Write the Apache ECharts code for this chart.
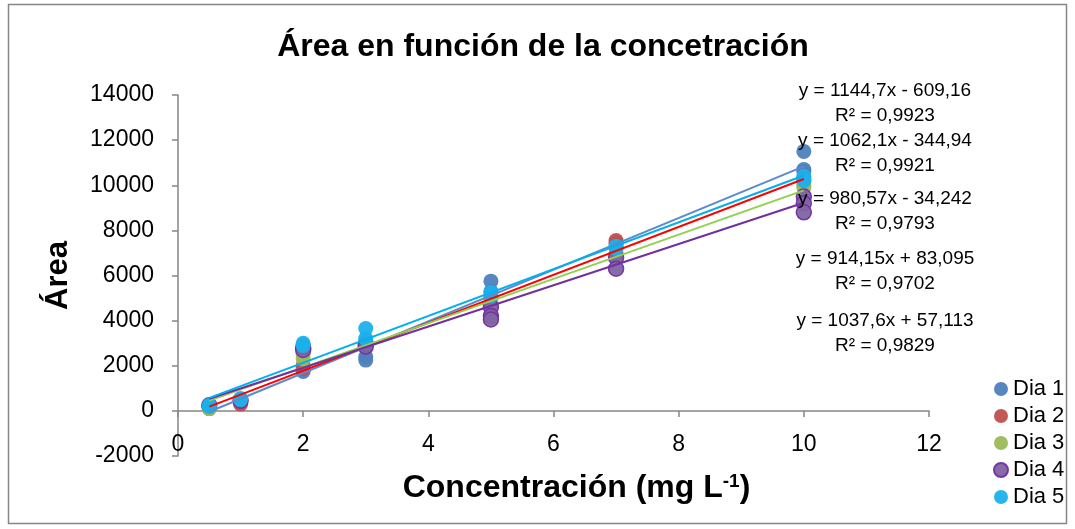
<!DOCTYPE html>
<html>
<head>
<meta charset="utf-8">
<script src="https://cdn.jsdelivr.net/npm/echarts@6/dist/echarts.min.js"></script>
<style>html,body{margin:0;padding:0;background:#fff}#c{width:1075px;height:529px}</style>
</head>
<body>
<div id="c"></div>
<script>
// ---- data ----
const seriesNames = ['Dia 1', 'Dia 2', 'Dia 3', 'Dia 4', 'Dia 5'];
const dia1X = [0.5, 0.5, 1, 2, 2, 3, 3, 5, 5, 7, 7, 10, 10, 10];
const dia1Y = [100, 150, 450, 1750, 1850, 2250, 2400, 5750, 5300, 7400, 7250, 11500, 10700, 10600];
const dia2X = [0.5, 1, 1, 2, 2, 3, 5, 7, 7, 10, 10];
const dia2Y = [150, 350, 300, 2000, 1900, 2900, 5000, 7550, 7450, 10300, 10200];
const dia3X = [0.5, 0.5, 1, 2, 2, 3, 3, 5, 5, 7, 7, 10, 10];
const dia3Y = [100, 200, 450, 2500, 2300, 3100, 3000, 4800, 4700, 6900, 7000, 9900, 10000];
const dia4X = [0.5, 1, 2, 2, 3, 3, 5, 5, 5, 7, 7, 10, 10, 10];
const dia4Y = [250, 450, 2800, 2700, 2950, 2850, 4600, 4200, 4050, 6800, 6300, 9500, 9200, 8800];
const dia5X = [0.5, 0.5, 1, 1, 2, 2, 3, 3, 5, 5, 7, 7, 10, 10];
const dia5Y = [250, 200, 550, 500, 3000, 2900, 3650, 3200, 5250, 5100, 7300, 7200, 10400, 10200];
// trendline coefficients (from the chart's equations)
const slopes = [1144.7, 1062.1, 980.57, 914.15, 1037.6];
const intercepts = [-609.16, -344.94, -34.242, 83.095, 57.113];
const r2 = ['0,9923', '0,9921', '0,9793', '0,9702', '0,9829'];
const eqTexts = ['y = 1144,7x - 609,16', 'y = 1062,1x - 344,94', 'y = 980,57x - 34,242', 'y = 914,15x + 83,095', 'y = 1037,6x + 57,113'];
const trendRange = [0.5, 10];
const xTicks = [0, 2, 4, 6, 8, 10, 12];
const yTicks = [-2000, 0, 2000, 4000, 6000, 8000, 10000, 12000, 14000];

// ---- styles ----
const markerColors = ['#4F81BD', '#C0504D', '#9BBB59', '#8064A2', '#1CB0EB'];
const markerBorders = ['#4F81BD', '#C0504D', '#9BBB59', '#7030A0', '#1CB0EB'];
const lineColors = ['#5B8BCB', '#FF0000', '#92D050', '#7030A0', '#00B0F0'];
const eqY = [91, 141, 199, 259, 321];
const FONT = '"Liberation Sans", Arial, sans-serif';

const xs = [dia1X, dia2X, dia3X, dia4X, dia5X];
const ys = [dia1Y, dia2Y, dia3Y, dia4Y, dia5Y];

const series = [];
seriesNames.forEach((n, i) => {
  series.push({
    name: n, type: 'scatter', symbol: 'circle', symbolSize: 15, z: 2,
    itemStyle: { color: markerColors[i], borderColor: markerBorders[i], borderWidth: i === 3 ? 1.5 : 0, opacity: 0.95 },
    data: xs[i].map((x, k) => [x, ys[i][k]])
  });
});
seriesNames.forEach((n, i) => {
  series.push({
    name: n + ' trend', type: 'line', symbol: 'none', z: 3, silent: true,
    lineStyle: { color: lineColors[i], width: 2 },
    data: trendRange.map(x => [x, slopes[i] * x + intercepts[i]])
  });
});

const eqGraphics = [];
eqTexts.forEach((t, i) => {
  eqGraphics.push({ type: 'text', x: 885, y: eqY[i], style: { text: t, x: 0, y: 0, textAlign: 'center', textVerticalAlign: 'middle', font: '19px ' + FONT, fill: '#000' }, z: 10 });
  eqGraphics.push({ type: 'text', x: 885, y: eqY[i] + 25, style: { text: 'R² = ' + r2[i], x: 0, y: 0, textAlign: 'center', textVerticalAlign: 'middle', font: '19px ' + FONT, fill: '#000' }, z: 10 });
});

const chart = echarts.init(document.getElementById('c'));
chart.setOption({
  animation: false,
  backgroundColor: '#fff',
  title: {
    text: 'Área en función de la concetración', left: 538, top: 26, textAlign: 'center',
    textStyle: { fontFamily: FONT, fontWeight: 'bold', fontSize: 32, color: '#000' }
  },
  legend: {
    data: seriesNames, orient: 'vertical', left: 988, top: 373, itemGap: 5,
    icon: 'circle', itemWidth: 14, itemHeight: 14,
    textStyle: { fontFamily: FONT, fontSize: 22, color: '#000' }
  },
  grid: { left: 178, right: 146, top: 95, bottom: 73, containLabel: false, outerBoundsMode: 'none' },
  xAxis: {
    type: 'value', min: 0, max: 12, interval: 2,
    axisLine: { onZero: true, lineStyle: { color: '#868686', width: 1.5 } },
    axisTick: { show: true, length: 6, lineStyle: { color: '#868686', width: 1.5 } },
    splitLine: { show: false },
    axisLabel: { margin: -23, color: '#000', fontFamily: FONT, fontSize: 23 },
    name: 'Concentración (mg L{sup|-1})', nameLocation: 'middle', nameGap: 16,
    nameTextStyle: {
      fontFamily: FONT, fontWeight: 'bold', fontSize: 32, color: '#000', padding: [0, 0, 0, 46],
      rich: { sup: { fontSize: 19, fontWeight: 'bold', verticalAlign: 'top', padding: [0, 0, 14, 0], fontFamily: FONT } }
    }
  },
  yAxis: {
    type: 'value', min: -2000, max: 14000, interval: 2000,
    axisLine: { show: true, onZero: false, lineStyle: { color: '#868686', width: 1.5 } },
    axisTick: { show: true, length: 6, lineStyle: { color: '#868686', width: 1.5 } },
    splitLine: { show: false },
    axisLabel: { margin: 24, color: '#000', fontFamily: FONT, fontSize: 23, formatter: v => String(v) },
    name: 'Área', nameLocation: 'middle', nameGap: 104, nameRotate: 90,
    nameTextStyle: { fontFamily: FONT, fontWeight: 'bold', fontSize: 31, color: '#000' }
  },
  graphic: [
    { type: 'rect', shape: { x: 8.5, y: 4.5, width: 1058, height: 519 }, style: { fill: 'none', stroke: '#868686', lineWidth: 1.5 }, z: -1 }
  ].concat(eqGraphics),
  series: series
});
</script>
</body>
</html>
